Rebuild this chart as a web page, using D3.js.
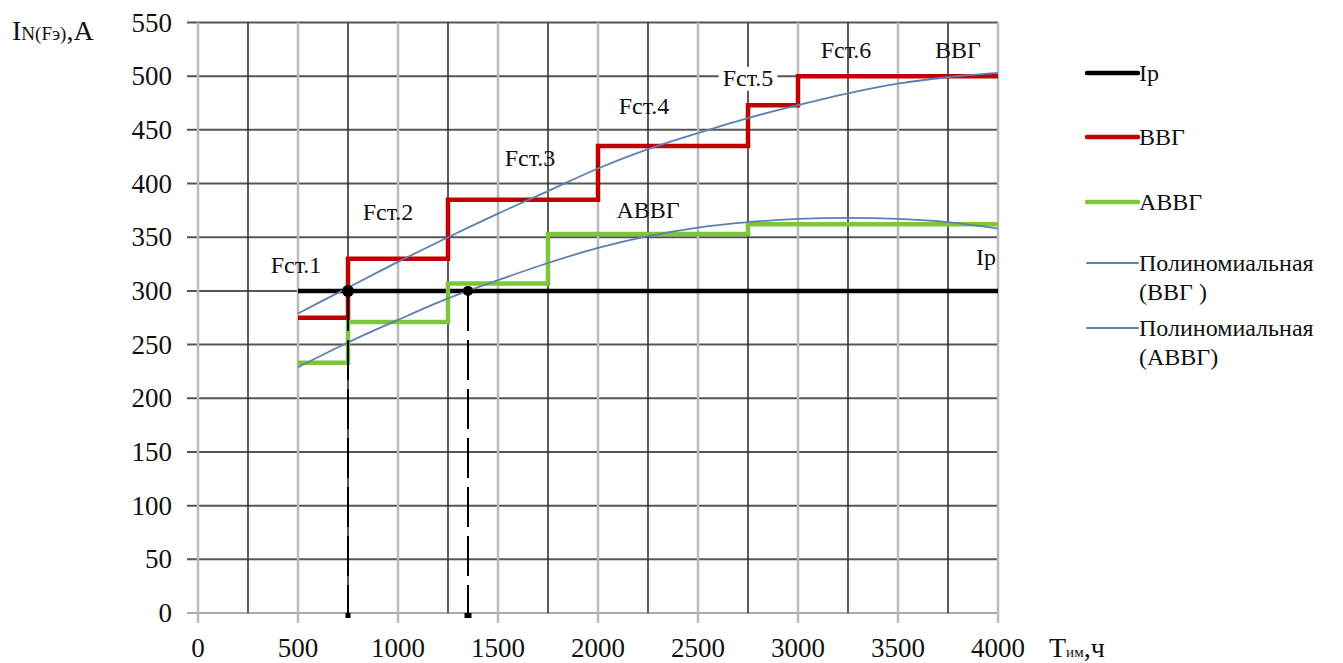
<!DOCTYPE html>
<html>
<head>
<meta charset="utf-8">
<script src="https://cdn.jsdelivr.net/npm/d3@7"></script>
<style>
  body { margin: 0; background: #fff; }
  text { font-family: "Liberation Serif", "Times New Roman", serif; fill: #111; }
</style>
</head>
<body>
<div id="chart"></div>
<script>
// ---- data ----
const xTicks = [0, 500, 1000, 1500, 2000, 2500, 3000, 3500, 4000];
const xMidLines = [250, 750, 1250, 1750, 2250, 2750, 3250, 3750];
const yTicks = [0, 50, 100, 150, 200, 250, 300, 350, 400, 450, 500, 550];

const ipLine = [[500, 300], [4000, 300]];

// step series: value holds from this x to the next x
const vvgSteps = [[500, 275], [750, 330], [1250, 385], [2000, 435], [2750, 473], [3000, 500], [4000, 500]];
const avvgSteps = [[500, 233], [750, 271], [1250, 307], [1750, 353], [2750, 362], [4000, 362]];

// trend curves
const vvgTrend = [[500, 279], [750, 303], [1000, 327], [1250, 350], [1500, 372], [1750, 393], [2000, 414],
                  [2250, 432], [2500, 447], [2750, 461], [3000, 473], [3250, 484], [3500, 493], [3750, 499], [4000, 503]];
const avvgTrend = [[500, 229], [750, 252], [1000, 273], [1250, 293], [1500, 310], [1750, 326], [2000, 340],
                   [2250, 351], [2500, 359], [2750, 364], [3000, 367], [3250, 368], [3500, 367], [3750, 364], [4000, 358]];

// intersection markers
const crossPoints = [[750, 300], [1350, 300]];

// annotations [label, x, y]
const notes = [
    ["Fст.1", 490, 317], ["Fст.2", 950, 366], ["Fст.3", 1660, 416], ["Fст.4", 2230, 465],
    ["Fст.5", 2750, 491], ["Fст.6", 3240, 517], ["ВВГ", 3800, 517], ["АВВГ", 2250, 368], ["Ip", 3940, 324]
];

const legendItems = [
    { label: ["Ip"], color: "#000", width: 4.5 },
    { label: ["ВВГ"], color: "#c00000", width: 4.5 },
    { label: ["АВВГ"], color: "#7dc63a", width: 4.5 },
    { label: ["Полиномиальная", "(ВВГ )"], color: "#5b80b2", width: 2 },
    { label: ["Полиномиальная", "(АВВГ)"], color: "#5b80b2", width: 2 }
];

// ---- drawing ----
let W = 1343, H = 663;
let svg = d3.select("#chart").append("svg")
    .attr("width", W)
    .attr("height", H);

let x = d3.scaleLinear().domain([0, 4000]).range([198, 998]);
let y = d3.scaleLinear().domain([0, 550]).range([613, 22.5]);

// grid: horizontal lines (dark) with little ticks on the left
svg.append("g").selectAll("line")
    .data(yTicks)
    .enter().append("line")
    .attr("x1", 187).attr("x2", x(4000))
    .attr("y1", d => y(d)).attr("y2", d => y(d))
    .attr("stroke", d => d === 0 ? "#aaa" : "#555")
    .attr("stroke-width", 2);

// light vertical lines at every 500, ticking below the axis
svg.append("g").selectAll("line")
    .data(xTicks)
    .enter().append("line")
    .attr("x1", d => x(d)).attr("x2", d => x(d))
    .attr("y1", y(550)).attr("y2", 623)
    .attr("stroke", "#bbb")
    .attr("stroke-width", 2.5);

// dark vertical lines in between
svg.append("g").selectAll("line")
    .data(xMidLines)
    .enter().append("line")
    .attr("x1", d => x(d)).attr("x2", d => x(d))
    .attr("y1", y(550)).attr("y2", y(0))
    .attr("stroke", "#333")
    .attr("stroke-width", 1.6);

// tick labels
svg.append("g").selectAll("text")
    .data(yTicks)
    .enter().append("text")
    .attr("x", 172)
    .attr("y", d => y(d) + 9)
    .attr("text-anchor", "end")
    .style("font-size", "27px")
    .text(d => d);

svg.append("g").selectAll("text")
    .data(xTicks)
    .enter().append("text")
    .attr("x", d => x(d))
    .attr("y", 657)
    .attr("text-anchor", "middle")
    .style("font-size", "27px")
    .text(d => d);

// axis titles
let yTitle = svg.append("text").attr("x", 12).attr("y", 40).style("font-size", "28px");
yTitle.append("tspan").text("I");
yTitle.append("tspan").style("font-size", "19px").text("N(Fэ)");
yTitle.append("tspan").text(",A");

let xTitle = svg.append("text").attr("x", 1049).attr("y", 657).style("font-size", "28px");
xTitle.append("tspan").text("T");
xTitle.append("tspan").style("font-size", "15px").text("им");
xTitle.append("tspan").text(",ч");

// series
let line = d3.line().x(d => x(d[0])).y(d => y(d[1]));
let stepLine = d3.line().x(d => x(d[0])).y(d => y(d[1])).curve(d3.curveStepAfter);
let smooth = d3.line().x(d => x(d[0])).y(d => y(d[1])).curve(d3.curveMonotoneX);

svg.append("path").datum(ipLine)
    .attr("d", line).attr("fill", "none")
    .attr("stroke", "#000").attr("stroke-width", 4.5);

svg.append("path").datum(vvgSteps)
    .attr("d", stepLine).attr("fill", "none")
    .attr("stroke", "#c00000").attr("stroke-width", 4.5);

svg.append("path").datum(avvgSteps)
    .attr("d", stepLine).attr("fill", "none")
    .attr("stroke", "#7dc63a").attr("stroke-width", 4.5);

[vvgTrend, avvgTrend].forEach(function(t) {
    svg.append("path").datum(t)
        .attr("d", smooth).attr("fill", "none")
        .attr("stroke", "#5b80b2").attr("stroke-width", 1.8);
});

// dashed drop lines with small end markers
crossPoints.forEach(function(p, i) {
    svg.append("line")
        .attr("x1", x(p[0])).attr("x2", x(p[0]))
        .attr("y1", y(p[1])).attr("y2", y(0) + 2)
        .attr("stroke", "#000").attr("stroke-width", 2)
        .attr("stroke-dasharray", "40 9");
    svg.append("rect")
        .attr("x", x(p[0]) - (i ? 3.5 : 2.5)).attr("y", y(0))
        .attr("width", i ? 7 : 5).attr("height", 5)
        .attr("fill", "#000");
    svg.append("circle")
        .attr("cx", x(p[0])).attr("cy", y(p[1]))
        .attr("r", i ? 5 : 6)
        .attr("fill", "#000");
});

// annotations
notes.forEach(function(n) {
    let t = svg.append("text")
        .attr("x", x(n[1])).attr("y", y(n[2]))
        .attr("text-anchor", "middle")
        .style("font-size", "24px")
        .text(n[0]);
    if (n[0] === "Fст.5") {
        let b = t.node().getBBox();
        svg.insert("rect", function() { return t.node(); })
            .attr("x", b.x - 4).attr("y", b.y + 2)
            .attr("width", b.width + 8).attr("height", b.height - 2)
            .attr("fill", "#fff");
    }
});

// legend
let legendY = [73, 137, 202, 263, 328];
let legend = svg.append("g");
legendItems.forEach(function(d, i) {
    let g = legend.append("g").attr("transform", "translate(1087," + legendY[i] + ")");
    g.append("line")
        .attr("x1", 0).attr("x2", 51)
        .attr("stroke", d.color).attr("stroke-width", d.width)
        .attr("stroke-linecap", "round");
    d.label.forEach(function(s, k) {
        g.append("text")
            .attr("x", 52).attr("y", 8 + k * 29)
            .style("font-size", "24px")
            .text(s);
    });
});
</script>
</body>
</html>
